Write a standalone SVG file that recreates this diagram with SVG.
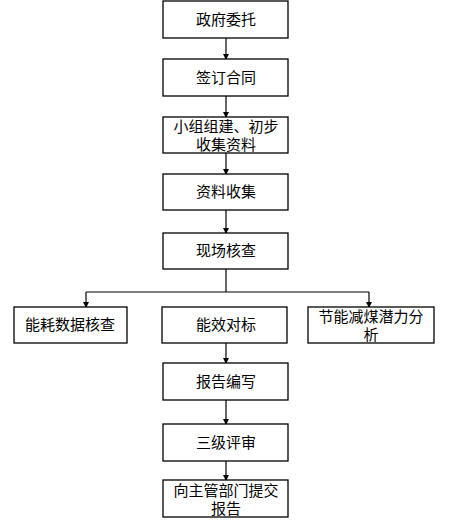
<svg xmlns="http://www.w3.org/2000/svg" width="450" height="522" viewBox="0 0 450 522">
<defs>
<marker id="ah" markerWidth="6" markerHeight="6" refX="5" refY="3" orient="auto" markerUnits="userSpaceOnUse">
<path d="M0,0 L6,3 L0,6 Z" fill="#000"/>
</marker>
<style>
.box{fill:#fff;stroke:#000;stroke-width:1.3}
.t{font-family:"Noto Sans CJK SC","Liberation Sans",sans-serif;font-size:15px;fill:#000;text-anchor:middle}
.c{fill:none;stroke:#000;stroke-width:1.2}
</style>
</defs>
<rect width="450" height="522" fill="#fff"/>
<g id="connectors">
<path class="c" d="M226,38 V59" marker-end="url(#ah)"/>
<path class="c" d="M226,96 V117" marker-end="url(#ah)"/>
<path class="c" d="M226,153 V174" marker-end="url(#ah)"/>
<path class="c" d="M226,210 V233" marker-end="url(#ah)"/>
<path class="c" d="M226,269 V292"/>
<path class="c" d="M86,292 H369"/>
<path class="c" d="M86,292 V307" marker-end="url(#ah)"/>
<path class="c" d="M369,292 V307" marker-end="url(#ah)"/>
<path class="c" d="M226,343 V363" marker-end="url(#ah)"/>
<path class="c" d="M226,400 V424" marker-end="url(#ah)"/>
<path class="c" d="M226,461 V480" marker-end="url(#ah)"/>
</g>
<g id="n1"><rect class="box" x="163" y="1" width="125" height="37"/><text class="t" x="226" y="25">政府委托</text></g>
<g id="n2"><rect class="box" x="163" y="59" width="125" height="37"/><text class="t" x="226" y="83">签订合同</text></g>
<g id="n3"><rect class="box" x="163" y="117" width="125" height="36"/><text class="t" x="226" y="132">小组组建、初步</text><text class="t" x="226" y="150">收集资料</text></g>
<g id="n4"><rect class="box" x="163" y="174" width="125" height="36"/><text class="t" x="226" y="197">资料收集</text></g>
<g id="n5"><rect class="box" x="163" y="233" width="125" height="36"/><text class="t" x="226" y="256">现场核查</text></g>
<g id="n6"><rect class="box" x="14" y="307" width="113" height="36"/><text class="t" x="70" y="330">能耗数据核查</text></g>
<g id="n7"><rect class="box" x="162" y="307" width="125" height="36"/><text class="t" x="226" y="330">能效对标</text></g>
<g id="n8"><rect class="box" x="308" y="307" width="126" height="36"/><text class="t" x="371" y="322">节能减煤潜力分</text><text class="t" x="371" y="340">析</text></g>
<g id="n9"><rect class="box" x="163" y="363" width="125" height="37"/><text class="t" x="226" y="387">报告编写</text></g>
<g id="n10"><rect class="box" x="163" y="424" width="125" height="37"/><text class="t" x="226" y="448">三级评审</text></g>
<g id="n11"><rect class="box" x="163" y="480" width="125" height="37"/><text class="t" x="226" y="496">向主管部门提交</text><text class="t" x="226" y="514">报告</text></g>
</svg>
